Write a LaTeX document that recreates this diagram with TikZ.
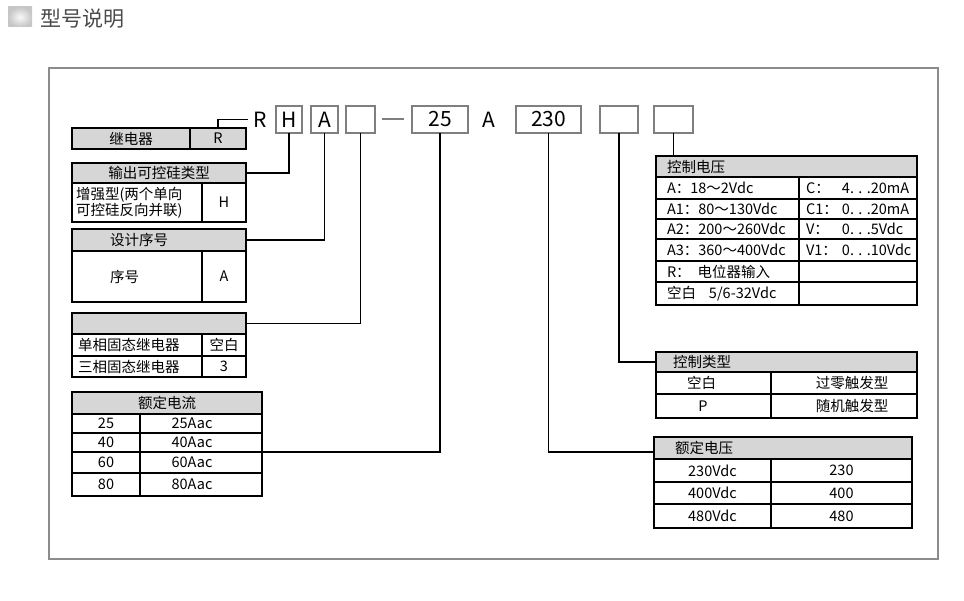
\documentclass[tikz,border=0pt]{standalone}
\usepackage{fontspec}
\setmainfont{Noto Sans CJK SC}
\usetikzlibrary{calc}

\definecolor{boxgray}{HTML}{7F7F7F}
\definecolor{headgray}{HTML}{D6D6D6}
\definecolor{framegray}{HTML}{8C8C8C}
\definecolor{titlegray}{HTML}{4A4A4A}

\newcommand{\leftcell}[2]{\makebox[#1pt][l]{#2}}

\tikzset{
  cell/.style 2 args={draw, line width=1.4pt, inner sep=0pt, outer sep=0pt,
    anchor=north west, minimum width=#1pt, minimum height=#2pt},
  head/.style 2 args={cell={#1}{#2}, fill=headgray},
}

\begin{document}
\begin{tikzpicture}[x=1pt, y=-1pt, font=\fontsize{14.5}{16}\selectfont,
    box/.style={draw=boxgray, line width=2pt, inner sep=0pt, outer sep=0pt,
      minimum height=27pt, font=\fontsize{21}{24}\selectfont},
    letter/.style={inner ysep=0pt, inner xsep=5pt, font=\fontsize{21}{24}\selectfont},
    conn/.style={line width=1.6pt}]
\useasboundingbox (0,0) rectangle (964,601);

% title
\shade[inner color=gray!5, outer color=gray!45] (8,7) rectangle (32,27);
\node[anchor=west, inner sep=0pt, text=titlegray, font=\fontsize{21}{24}\selectfont] (title) at (40,19) {型号说明};
\draw[framegray, line width=2pt] (49,68) rectangle (938,559);

% model code
\node[letter] (lR) at (260,119.5) {R};
\node[box, minimum width=26pt] (bH) at (289,119.5) {H};
\node[box, minimum width=27pt] (bA) at (324.5,119.5) {A};
\node[box, minimum width=29pt] (b0) at (360.5,119.5) {};
\node[box, minimum width=56pt] (b25) at (440,119.5) {25};
\node[letter] (lA) at (489,119.5) {A};
\node[box, minimum width=65pt] (b230) at (548.5,119.5) {230};
\node[box, minimum width=38pt] (b1) at (619,119.5) {};
\node[box, minimum width=39pt] (b2) at (673.5,119.5) {};
\draw[boxgray, line width=2pt, shorten <=7pt, shorten >=8pt] (b0.east) -- (b25.west);

% relay
\node[head={118}{21}] (t1a) at (72,128) {继电器};
\node[head={56}{21}] (t1b) at (190,128) {R};

% thyristor type
\node[head={174}{20}] (t2h) at (72,163) {输出可控硅类型};
\node[cell={130}{39}, align=center, font=\fontsize{14.5}{14.5}\selectfont] (t2a) at (72,183)
  {\leftcell{122}{增强型(两个单向}\\\leftcell{122}{可控硅反向并联)}};
\node[cell={44}{39}] (t2b) at (202,183) {H};

% design number
\node[head={174}{22}] (t3h) at (72,229) {\leftcell{98}{设计序号}};
\node[cell={130}{51}] (t3a) at (72,251) {\leftcell{54}{序号}};
\node[cell={44}{51}] (t3b) at (202,251) {A};

% phase
\node[head={174}{21}] (t4h) at (72,313) {};
\node[cell={130}{22}] (t4r1a) at (72,334) {\leftcell{118}{单相固态继电器}};
\node[cell={44}{22}] (t4r1b) at (202,334) {空白};
\node[cell={130}{21}] (t4r2a) at (72,356) {\leftcell{118}{三相固态继电器}};
\node[cell={44}{21}] (t4r2b) at (202,356) {3};

% rated current
\node[head={190}{22}] (t5h) at (72,392) {额定电流};
\foreach \y/\h/\a [count=\i] in {414/19/25, 433/19/40, 452/21/60, 473/23/80} {
  \node[cell={68}{\h}] (t5r\i a) at (72,\y) {\a};
  \node[cell={122}{\h}] (t5r\i b) at (140,\y) {\hspace*{-18pt}\a Aac};
}

% control voltage
\node[head={261}{21}] (t6h) at (656,156) {\leftcell{239}{控制电压}};
\node[cell={143}{22}] (t6r1a) at (656,177) {\leftcell{121}{A：18～2Vdc}};
\node[cell={118}{22}] (t6r1b) at (799,177) {\leftcell{104}{\makebox[36pt][l]{C：}4. . .20mA}};
\node[cell={143}{20}] (t6r2a) at (656,199) {\leftcell{121}{A1：80～130Vdc}};
\node[cell={118}{20}] (t6r2b) at (799,199) {\leftcell{104}{\makebox[36pt][l]{C1：}0. . .20mA}};
\node[cell={143}{20}] (t6r3a) at (656,219) {\leftcell{121}{A2：200～260Vdc}};
\node[cell={118}{20}] (t6r3b) at (799,219) {\leftcell{104}{\makebox[36pt][l]{V：}0. . .5Vdc}};
\node[cell={143}{22}] (t6r4a) at (656,239) {\leftcell{121}{A3：360～400Vdc}};
\node[cell={118}{22}] (t6r4b) at (799,239) {\leftcell{104}{\makebox[36pt][l]{V1：}0. . .10Vdc}};
\node[cell={143}{21}] (t6r5a) at (656,261) {\leftcell{121}{R：\hspace{7pt}电位器输入}};
\node[cell={118}{21}] (t6r5b) at (799,261) {};
\node[cell={143}{23}] (t6r6a) at (656,282) {\leftcell{121}{空白\hspace{13pt}5/6-32Vdc}};
\node[cell={118}{23}] (t6r6b) at (799,282) {};

% control type
\node[head={261}{20}] (t7h) at (656,352) {\leftcell{227}{控制类型}};
\node[cell={115}{22}] (t7r1a) at (656,372) {\hspace*{-24pt}空白};
\node[cell={146}{22}] (t7r1b) at (771,372) {\hspace*{16pt}过零触发型};
\node[cell={115}{24}] (t7r2a) at (656,394) {\hspace*{-21pt}P};
\node[cell={146}{24}] (t7r2b) at (771,394) {\hspace*{16pt}随机触发型};

% rated voltage
\node[head={258}{22}] (t8h) at (654,437) {\leftcell{216}{额定电压}};
\foreach \y/\h/\v [count=\i] in {459/23/230, 482/22/400, 504/24/480} {
  \node[cell={117}{\h}] (t8r\i a) at (654,\y) {\v Vdc};
  \node[cell={141}{\h}] (t8r\i b) at (771,\y) {\v};
}

% connectors
\draw[conn] (t1b.north) |- (lR.west);
\draw[conn] (bH.south) |- (t2h.east);
\draw[conn] (bA.south) |- (t3h.east);
\draw[conn] (b0.south) |- (t4h.east);
\draw[conn] (b25.south) |- (t5r2b.south east);
\draw[conn] (b230.south) |- ([yshift=-4pt]t8h.west);
\draw[conn] (b1.south) |- (t7h.west);
\draw[conn] (b2.south) -- (b2.south |- t6h.north);
\end{tikzpicture}
\end{document}
